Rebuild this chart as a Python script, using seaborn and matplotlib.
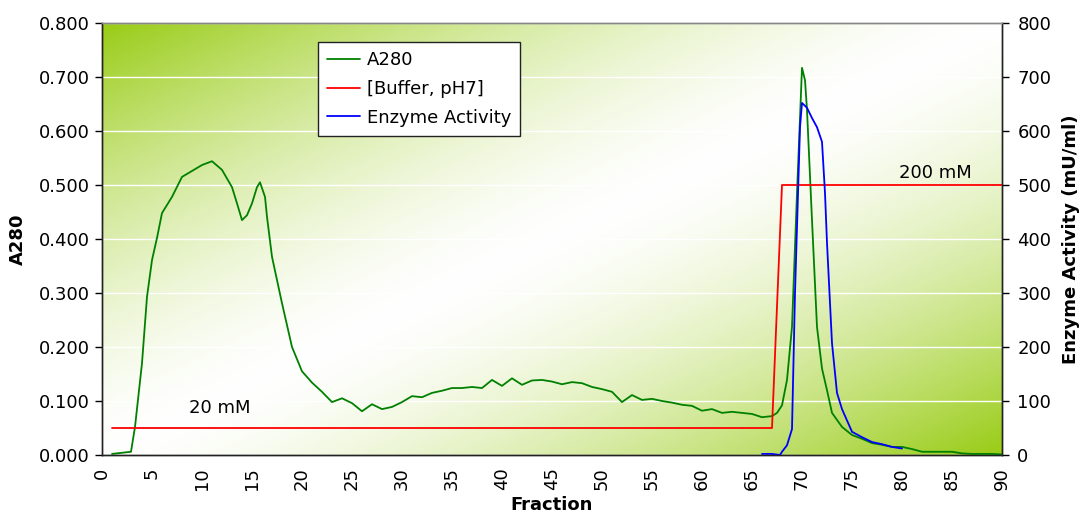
import numpy as np
import pandas as pd
import matplotlib
matplotlib.use("Agg")
import matplotlib.pyplot as plt
from matplotlib.colors import to_rgb
from matplotlib.lines import Line2D
import seaborn as sns

# ---------------- data ----------------
a280_fraction = [1, 2.9, 3.3, 4, 4.5, 5, 5.5, 6, 7, 8, 9, 10, 11, 12, 13, 13.5, 14, 14.5, 15,
                 15.5, 15.8, 16.3, 16.5, 17, 18, 19, 20, 21, 22, 23, 24, 25, 26, 27, 28, 29,
                 30, 31, 32, 33, 34, 35, 36, 37, 38, 39, 40, 41, 42, 43, 44, 45, 46, 47, 48,
                 49, 50, 51, 52, 53, 54, 55, 56, 57, 58, 59, 60, 61, 62, 63, 64, 65, 66, 67,
                 67.5, 68, 68.5, 69, 69.5, 70, 70.3, 70.5, 71, 71.5, 72, 72.5, 73, 74, 75, 76,
                 77, 78, 79, 80, 81, 82, 83, 84, 85, 86, 87, 88, 89, 90]
a280_values = [0.002, 0.006, 0.052, 0.170, 0.293, 0.361, 0.402, 0.448, 0.478, 0.515, 0.526,
               0.537, 0.544, 0.528, 0.496, 0.466, 0.435, 0.444, 0.466, 0.496, 0.505, 0.478,
               0.441, 0.367, 0.281, 0.200, 0.155, 0.134, 0.117, 0.098, 0.105, 0.096, 0.081,
               0.094, 0.085, 0.089, 0.098, 0.109, 0.107, 0.115, 0.119, 0.124, 0.124, 0.126,
               0.124, 0.139, 0.128, 0.142, 0.130, 0.138, 0.139, 0.136, 0.131, 0.135, 0.133,
               0.126, 0.122, 0.117, 0.098, 0.111, 0.102, 0.104, 0.100, 0.097, 0.093, 0.091,
               0.082, 0.085, 0.078, 0.080, 0.078, 0.076, 0.070, 0.072, 0.078, 0.092, 0.139,
               0.237, 0.485, 0.717, 0.694, 0.639, 0.435, 0.237, 0.160, 0.120, 0.078, 0.052,
               0.037, 0.030, 0.022, 0.019, 0.015, 0.015, 0.011, 0.006, 0.006, 0.006, 0.006,
               0.003, 0.002, 0.002, 0.002, 0.001]

buffer_fraction = [1, 67, 68, 90]
buffer_values = [50, 50, 500, 500]

enzyme_fraction = [66, 67, 67.8, 68, 68.5, 69, 69.3, 69.5, 69.8, 70, 70.5, 71, 71.5, 72,
                   72.3, 72.5, 73, 73.5, 74, 75, 76, 77, 78, 79, 80]
enzyme_values = [2, 2, 0, 6, 18, 48, 300, 422, 607, 652, 643, 624, 607, 580, 485, 393,
                 207, 115, 85, 43, 33, 24, 20, 15, 12]

left_ticks = [0.0, 0.1, 0.2, 0.3, 0.4, 0.5, 0.6, 0.7, 0.8]
right_ticks = [0, 100, 200, 300, 400, 500, 600, 700, 800]
x_ticks = list(range(0, 91, 5))

# ---------------- figure ----------------
sns.set_style("white")
plt.rcParams['font.family'] = ['DejaVu Sans']
plt.rcParams['text.color'] = 'black'
plt.rcParams['axes.labelcolor'] = 'black'
plt.rcParams['xtick.color'] = 'black'
plt.rcParams['ytick.color'] = 'black'

fig = plt.figure(figsize=(10.81, 5.20), dpi=100)
ax = fig.add_axes([102 / 1081, 1 - 455 / 520, 900 / 1081, 432 / 520])

# diagonal gradient background (green corners top-left / bottom-right)
n = 300
u = np.linspace(0, 1, n)
v = np.linspace(1, 0, n)
U, V = np.meshgrid(u, v)
s = np.abs(U - V) ** 1.5
green = np.array(to_rgb("#99cc16"))
white = np.array([1.0, 1.0, 1.0])
img = white[None, None, :] + s[..., None] * (green - white)[None, None, :]
ax.imshow(img, extent=[0, 90, 0, 0.8], aspect='auto', zorder=0, interpolation='bilinear')

ax.set_axisbelow(True)
ax.yaxis.grid(True, color='white', lw=1.0)
ax.xaxis.grid(False)

df_a = pd.DataFrame({"Fraction": a280_fraction, "A280": a280_values})
sns.lineplot(data=df_a, x="Fraction", y="A280", ax=ax, color="#008000", lw=1.3, zorder=3)

ax.set_xlim(0, 90)
ax.set_ylim(0, 0.8)
ax.set_xticks(x_ticks)
ax.set_xticklabels([str(t) for t in x_ticks], rotation=90, fontsize=13)
ax.set_yticks(left_ticks)
ax.set_yticklabels([f"{t:.3f}" for t in left_ticks], fontsize=13)
ax.set_xlabel("Fraction", fontsize=13, fontweight='bold', labelpad=4)
ax.set_ylabel("A280", fontsize=13, fontweight='bold', labelpad=8)
ax.tick_params(axis='both', direction='out', length=5, width=1, color='black', pad=4)

ax2 = ax.twinx()
ax2.patch.set_visible(False)
df_b = pd.DataFrame({"Fraction": buffer_fraction, "Buffer": buffer_values})
df_e = pd.DataFrame({"Fraction": enzyme_fraction, "Enzyme": enzyme_values})
sns.lineplot(data=df_b, x="Fraction", y="Buffer", ax=ax2, color="#ff0000", lw=1.3)
sns.lineplot(data=df_e, x="Fraction", y="Enzyme", ax=ax2, color="#0000ff", lw=1.3)
ax2.set_ylim(0, 800)
ax2.set_xlim(0, 90)
ax2.set_yticks(right_ticks)
ax2.set_yticklabels([str(t) for t in right_ticks], fontsize=13)
ax2.set_ylabel("Enzyme Activity (mU/ml)", fontsize=13, fontweight='bold', labelpad=8)
ax2.tick_params(axis='y', direction='out', length=5, width=1, color='black', pad=6)

for a in (ax, ax2):
    for side in ('left', 'right', 'bottom'):
        a.spines[side].set_color('#222222')
        a.spines[side].set_linewidth(1.0)
    a.spines['top'].set_color('#888888')
    a.spines['top'].set_linewidth(1.0)

ax2.text(11.8, 70, "20 mM", ha='center', va='bottom', fontsize=13)
ax2.text(83.3, 505, "200 mM", ha='center', va='bottom', fontsize=13)

handles = [Line2D([], [], color="#008000", lw=1.3),
           Line2D([], [], color="#ff0000", lw=1.3),
           Line2D([], [], color="#0000ff", lw=1.3)]
labels = ["A280", "[Buffer, pH7]", "Enzyme Activity"]
leg = ax2.legend(handles, labels, loc='upper left',
                 bbox_to_anchor=(318 / 1081, 1 - 42 / 520), bbox_transform=fig.transFigure,
                 fontsize=13, frameon=True, fancybox=False, framealpha=1,
                 edgecolor='#222222', borderaxespad=0, handlelength=1.8,
                 handletextpad=0.4, labelspacing=0.6, borderpad=0.5)
leg.get_frame().set_linewidth(1.0)

fig.savefig("out.png", dpi=100)
